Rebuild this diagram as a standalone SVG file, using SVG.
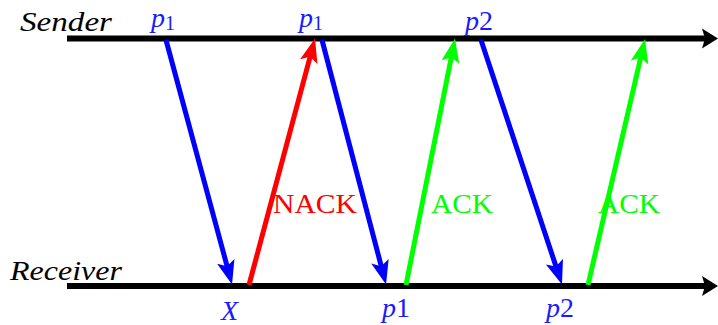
<svg xmlns="http://www.w3.org/2000/svg" width="718" height="325" viewBox="0 0 718 325">
<style>
.axis{stroke:#000;stroke-width:6;fill:none}
.blue{stroke:#0000ff;stroke-width:5;fill:none}
.red{stroke:#ff0000;stroke-width:5;fill:none}
.green{stroke:#00ff00;stroke-width:5;fill:none}
.lbl{font-family:'Liberation Serif',serif;font-style:italic;font-size:27px;fill:#000}
.pl{font-family:'Liberation Serif',serif;font-style:italic;font-size:28px;fill:#1a1aff}
.sub{font-style:normal;font-size:20px}
.num{font-style:normal}
.msg{font-family:'Liberation Serif',serif;font-size:28px}
</style>
<defs>
<marker id="hk" markerUnits="userSpaceOnUse" markerWidth="20" markerHeight="22" viewBox="0 -11 20 22" refX="8" refY="0" orient="auto"><path d="M0,-10 L16,0 L0,10 L3,0 z" fill="#000"/></marker>
<marker id="hb" markerUnits="userSpaceOnUse" markerWidth="26" markerHeight="20" viewBox="0 -10 26 20" refX="12" refY="0" orient="auto"><path d="M0,-9 L24,0 L0,9 L5,0 z" fill="#0000ff"/></marker>
<marker id="hr" markerUnits="userSpaceOnUse" markerWidth="26" markerHeight="20" viewBox="0 -10 26 20" refX="12" refY="0" orient="auto"><path d="M0,-9 L24,0 L0,9 L5,0 z" fill="#ff0000"/></marker>
<marker id="hg" markerUnits="userSpaceOnUse" markerWidth="26" markerHeight="20" viewBox="0 -10 26 20" refX="12" refY="0" orient="auto"><path d="M0,-9 L24,0 L0,9 L5,0 z" fill="#00ff00"/></marker>
</defs>
<g id="sender">
<line class="axis" x1="67" y1="38.5" x2="710" y2="38.5" marker-end="url(#hk)"/>
<text class="lbl" x="20" y="31" textLength="92" lengthAdjust="spacingAndGlyphs">Sender</text>
</g>
<g id="receiver">
<line class="axis" x1="67" y1="286" x2="710" y2="286" marker-end="url(#hk)"/>
<text class="lbl" x="10" y="280" textLength="112" lengthAdjust="spacingAndGlyphs">Receiver</text>
</g>
<g id="labels">
<text class="pl" x="151" y="27">p<tspan class="sub" dy="3">1</tspan></text>
<text class="pl" x="299" y="27">p<tspan class="sub" dy="3">1</tspan></text>
<text class="pl" x="465" y="30">p<tspan class="num">2</tspan></text>
<text class="pl" x="221" y="320">X</text>
<text class="pl" x="382" y="317">p<tspan class="num">1</tspan></text>
<text class="pl" x="546" y="317">p<tspan class="num">2</tspan></text>
</g>
<g id="connectors">
<line class="blue" x1="166" y1="40" x2="228.9" y2="272.9" marker-end="url(#hb)"/>
<line class="red" x1="249" y1="285" x2="311.9" y2="50.1" marker-end="url(#hr)"/>
<line class="blue" x1="322" y1="40" x2="383" y2="272.9" marker-end="url(#hb)"/>
<line class="green" x1="406" y1="285" x2="452.7" y2="50.3" marker-end="url(#hg)"/>
<line class="blue" x1="481" y1="40" x2="558.2" y2="273.1" marker-end="url(#hb)"/>
<line class="green" x1="588" y1="285" x2="642.3" y2="50.8" marker-end="url(#hg)"/>
</g>
<g id="msgs">
<text class="msg" x="273" y="213" fill="#ff0000" textLength="84" lengthAdjust="spacingAndGlyphs">NACK</text>
<text class="msg" x="431" y="213" fill="#00ff00" textLength="62" lengthAdjust="spacingAndGlyphs">ACK</text>
<text class="msg" x="598" y="213" fill="#00ff00" textLength="62" lengthAdjust="spacingAndGlyphs">ACK</text>
</g>
</svg>
